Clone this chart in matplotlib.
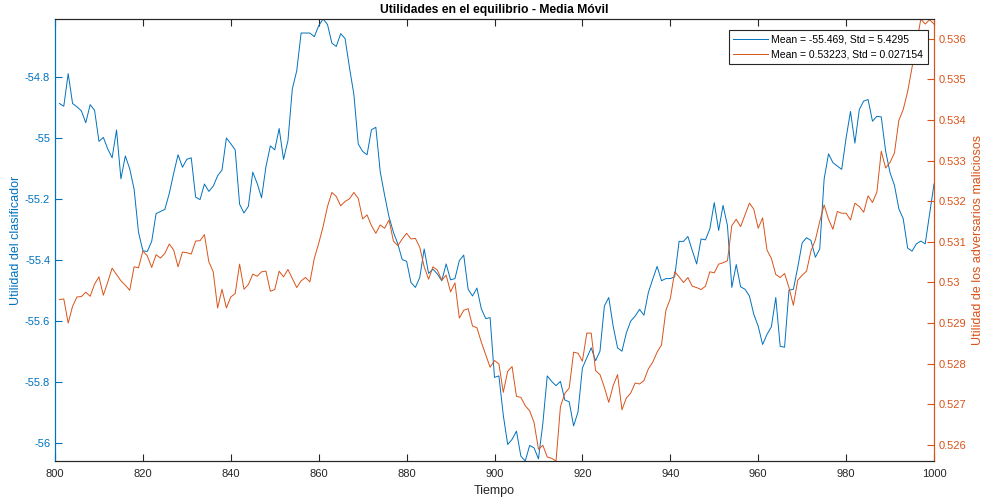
import numpy as np
import matplotlib.pyplot as plt
from matplotlib.ticker import FuncFormatter

plt.rcParams['font.family'] = ['Liberation Sans', 'DejaVu Sans']
plt.rcParams['axes.unicode_minus'] = False

# tiempo 801..1000
tiempo = np.arange(801, 1001)

# utilidad del clasificador (media movil)
util_clasificador = [
    -54.888, -54.897, -54.790, -54.888, -54.899, -54.912, -54.951, -54.892, -54.910, -55.012,
    -54.999, -55.037, -55.066, -54.975, -55.135, -55.060, -55.102, -55.169, -55.310, -55.371,
    -55.373, -55.340, -55.249, -55.242, -55.235, -55.183, -55.117, -55.056, -55.097, -55.071,
    -55.066, -55.195, -55.203, -55.152, -55.176, -55.159, -55.125, -55.106, -55.001, -55.020,
    -55.040, -55.218, -55.247, -55.225, -55.113, -55.150, -55.197, -55.095, -55.027, -55.040,
    -54.970, -55.071, -55.010, -54.840, -54.781, -54.657, -54.657, -54.657, -54.669, -54.633,
    -54.611, -54.629, -54.690, -54.701, -54.659, -54.675, -54.770, -54.858, -55.021, -55.045,
    -55.056, -54.974, -54.966, -55.112, -55.189, -55.260, -55.310, -55.348, -55.400, -55.405,
    -55.475, -55.491, -55.458, -55.365, -55.445, -55.431, -55.447, -55.469, -55.414, -55.466,
    -55.462, -55.403, -55.385, -55.497, -55.519, -55.493, -55.561, -55.593, -55.590, -55.786,
    -55.781, -55.910, -56.006, -55.989, -55.962, -56.044, -56.060, -56.009, -56.017, -56.053,
    -55.937, -55.781, -55.799, -55.813, -55.799, -55.860, -55.866, -55.945, -55.899, -55.755,
    -55.722, -55.689, -55.731, -55.700, -55.552, -55.524, -55.618, -55.689, -55.700, -55.640,
    -55.601, -55.585, -55.563, -55.582, -55.508, -55.464, -55.422, -55.469, -55.462, -55.462,
    -55.456, -55.340, -55.340, -55.324, -55.370, -55.414, -55.332, -55.335, -55.299, -55.213,
    -55.304, -55.222, -55.288, -55.491, -55.416, -55.489, -55.497, -55.519, -55.579, -55.618,
    -55.678, -55.645, -55.620, -55.524, -55.684, -55.687, -55.500, -55.497, -55.425, -55.345,
    -55.328, -55.337, -55.392, -55.365, -55.136, -55.053, -55.082, -55.093, -55.104, -55.001,
    -54.914, -55.018, -54.908, -54.880, -54.875, -54.946, -54.930, -54.932, -55.045, -55.115,
    -55.156, -55.233, -55.266, -55.362, -55.372, -55.348, -55.339, -55.348, -55.249, -55.152,
]

# utilidad de los adversarios maliciosos (media movil)
util_adversarios = [
    0.529575, 0.529592, 0.528998, 0.529411, 0.529641, 0.529650, 0.529757, 0.529658, 0.529955, 0.530136,
    0.529683, 0.530004, 0.530350, 0.530194, 0.530037, 0.529930, 0.529806, 0.530383, 0.530359, 0.530771,
    0.530655, 0.530367, 0.530680, 0.530598, 0.530713, 0.530944, 0.530796, 0.530383, 0.530746, 0.530730,
    0.530697, 0.531018, 0.531026, 0.531175, 0.530507, 0.530260, 0.529369, 0.529831, 0.529369, 0.529641,
    0.529724, 0.530449, 0.529831, 0.529946, 0.530202, 0.530153, 0.530260, 0.530276, 0.529782, 0.529823,
    0.530276, 0.530136, 0.530317, 0.530095, 0.529872, 0.530037, 0.530120, 0.530012, 0.530589, 0.530960,
    0.531373, 0.531867, 0.532214, 0.532115, 0.531884, 0.531991, 0.532057, 0.532214, 0.532065, 0.531562,
    0.531661, 0.531397, 0.531208, 0.531414, 0.531331, 0.531537, 0.531018, 0.530903, 0.531068, 0.531208,
    0.531068, 0.531084, 0.530862, 0.530383, 0.530078, 0.530383, 0.530301, 0.530054, 0.530177, 0.529765,
    0.529988, 0.529122, 0.529312, 0.529353, 0.528924, 0.528883, 0.528528, 0.528223, 0.527910, 0.528075,
    0.527993, 0.527292, 0.527811, 0.527927, 0.527193, 0.527168, 0.526962, 0.526838, 0.526550, 0.525890,
    0.525989, 0.525701, 0.525668, 0.525602, 0.526937, 0.527267, 0.527399, 0.528281, 0.528256, 0.528059,
    0.528751, 0.528751, 0.527828, 0.527729, 0.527415, 0.527045, 0.527457, 0.527729, 0.526863, 0.527152,
    0.527275, 0.527523, 0.527498, 0.527580, 0.527869, 0.528034, 0.528281, 0.528462, 0.529312, 0.529600,
    0.530260, 0.530136, 0.529996, 0.530120, 0.529905, 0.529872, 0.529823, 0.529905, 0.530260, 0.530235,
    0.530449, 0.530482, 0.530532, 0.531397, 0.531554, 0.531373, 0.531661, 0.531950, 0.531801, 0.531331,
    0.531587, 0.530796, 0.530589, 0.530194, 0.530120, 0.530218, 0.529872, 0.529435, 0.530054, 0.530177,
    0.530276, 0.530771, 0.531043, 0.531496, 0.531908, 0.531554, 0.531307, 0.531744, 0.531702, 0.531702,
    0.531537, 0.531950, 0.531867, 0.531727, 0.532131, 0.531966, 0.532222, 0.533228, 0.532815, 0.532955,
    0.533186, 0.533986, 0.534258, 0.534695, 0.535289, 0.535866, 0.536484, 0.536360, 0.536467, 0.536360,
]

etiquetas = ['Mean = -55.469, Std = 5.4295', 'Mean = 0.53223, Std = 0.027154']

azul = '#0072BD'
naranja = '#D95319'
gris = '#262626'

fig = plt.figure(figsize=(9.84, 5.01), dpi=100)
ax = fig.add_axes([55 / 984, 1 - 461 / 501, 879 / 984, 442 / 501])
ax2 = ax.twinx()

l1, = ax.plot(tiempo, util_clasificador, color=azul, lw=0.7)
l2, = ax2.plot(tiempo, util_adversarios, color=naranja, lw=0.7)

# ejes ajustados a los datos (como axis tight)
ax.set_xlim(800, 1000)
ax.set_xticks(np.arange(800, 1001, 20))
ax.set_ylim(min(util_clasificador), max(util_clasificador))
ax.set_yticks([-54.8, -55, -55.2, -55.4, -55.6, -55.8, -56])
ax.yaxis.set_major_formatter(FuncFormatter(lambda v, p: '%g' % round(v, 4)))
ax2.set_ylim(min(util_adversarios), max(util_adversarios))
ax2.set_yticks(np.arange(0.526, 0.5365, 0.001))
ax2.yaxis.set_major_formatter(FuncFormatter(lambda v, p: '%g' % round(v, 4)))

ax.tick_params(axis='x', direction='in', top=True, length=5, width=0.8,
               colors=gris, labelsize=8, pad=6)
ax.tick_params(axis='y', direction='in', length=5, width=0.8,
               colors=azul, labelsize=8)
ax2.tick_params(axis='y', direction='in', length=5, width=0.8,
                colors=naranja, labelsize=8)

for a in (ax, ax2):
    a.spines['top'].set_color(gris)
    a.spines['bottom'].set_color(gris)
    a.spines['left'].set_color(azul)
    a.spines['right'].set_color(naranja)
    for s in a.spines.values():
        s.set_linewidth(0.8)

ax.set_xlabel('Tiempo', fontsize=9, color=gris, labelpad=4)
ax.set_ylabel('Utilidad del clasificador', fontsize=9, color=azul, labelpad=2)
ax2.set_ylabel('Utilidad de los adversarios maliciosos', fontsize=9, color=naranja)
ax.set_title('Utilidades en el equilibrio - Media Móvil', fontsize=8.7,
             fontweight='bold', color='black', pad=4)

leg = ax2.legend([l1, l2], etiquetas,
                 loc='upper right', bbox_to_anchor=(1 - 6 / 879, 1 - 11 / 442),
                 borderaxespad=0, fontsize=7.5, frameon=True, fancybox=False,
                 framealpha=1, edgecolor=gris, handlelength=3.3,
                 labelspacing=0.45, borderpad=0.45, handletextpad=0.35)
leg.get_frame().set_linewidth(0.8)

fig.savefig('out.png', dpi=100)
